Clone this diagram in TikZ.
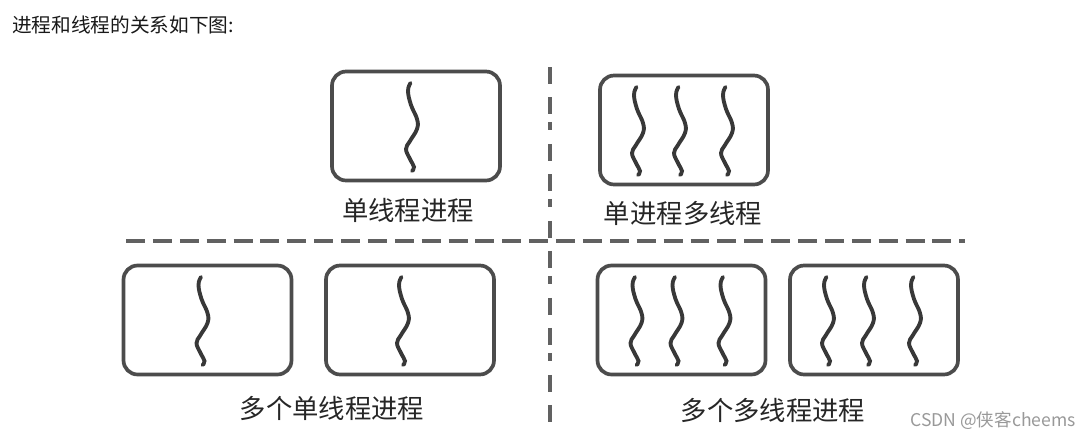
\documentclass[tikz,border=0pt]{standalone}
\usepackage{fontspec}
\newfontfamily\cjk{Noto Sans CJK SC}
\newcommand{\thread}[2]{\draw[threadline,shift={(#1.center)},shift={(#2,1)}] plot[smooth,tension=0.7] coordinates {(-1.5,-44) (-4,-36) (-1,-22) (5,-8) (5,2) (-2,14) (-6,22) (-2,32) (2,40) (0,44)};}

\begin{document}
\begin{tikzpicture}[x=0.02cm,y=-0.02cm]
 \tikzset{procbox/.style={draw=black!70,line width=2.1pt,rounded corners=8pt,minimum width=3.36cm,minimum height=2.18cm,inner sep=0pt},
  threadline/.style={black!78,line width=2.2pt,line cap=round},
  caption/.style={font=\cjk\fontsize{15}{18}\selectfont,text=black!85},
  hdivider/.style={black!62,line width=2.3pt,dash pattern=on 10.8pt off 4.5pt},
  vdivider/.style={black!62,line width=2.3pt,dash pattern=on 9.7pt off 7.4pt on 9.7pt off 4.5pt on 4.5pt off 8pt}}
 \useasboundingbox (0,0) rectangle (1090,440);

 \node[anchor=west,font=\cjk\fontsize{11.2}{13}\selectfont,text=black!90] (title) at (6,25) {进程和线程的关系如下图:};

 % one process, one thread
 \node[procbox] (sp) at (416,126) {};
 \thread{sp}{-4}
 \node[caption] (spl) at (408,210) {单线程进程};

 % one process, many threads
 \node[procbox] (mt) at (684,130) {};
 \foreach \dx in {-46,-4,43} {\thread{mt}{\dx}}
 \node[caption] (mtl) at (683,213) {单进程多线程};

 % many single-threaded processes
 \node[procbox] (sa) at (207.5,320) {};
 \node[procbox] (sb) at (410,320) {};
 \thread{sa}{-5}
 \thread{sb}{-7}
 \node[caption] (sl) at (332,408) {多个单线程进程};

 % many multi-threaded processes
 \node[procbox] (ma) at (681.5,320) {};
 \node[procbox] (mb) at (874,320) {};
 \foreach \dx in {-45,-5,43} {\thread{ma}{\dx}}
 \foreach \dx in {-46,-6,41} {\thread{mb}{\dx}}
 \node[caption] (ml) at (773,410) {多个多线程进程};

 % dividers
 \coordinate (hl) at (126,241);
 \coordinate (hr) at (965,241);
 \coordinate (vt) at (550,67);
 \coordinate (vb) at (550,428);
 \draw[hdivider] (hl) -- (hr);
 \draw[vdivider] (vt) -- (vb);

 \node[font=\cjk\fontsize{10}{12}\selectfont,text=black!40] (mark) at (993,421) {CSDN @侠客cheems};
\end{tikzpicture}
\end{document}
